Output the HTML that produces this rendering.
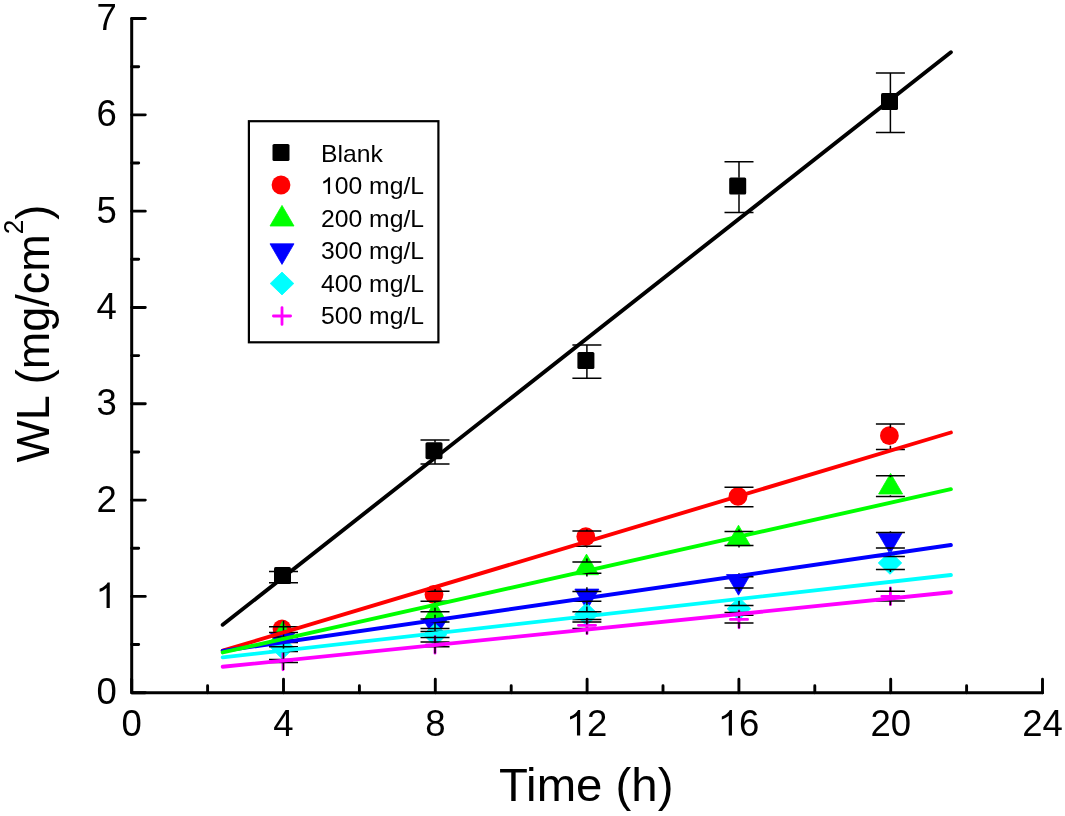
<!DOCTYPE html><html><head><meta charset="utf-8"><title>WL vs Time</title><style>html,body{margin:0;padding:0;background:#fff;overflow:hidden}svg{display:block;will-change:transform}text{font-family:"Liberation Sans",sans-serif;fill:#000}</style></head><body>
<svg width="1065" height="816" viewBox="0 0 1065 816">
<rect width="1065" height="816" fill="#fff"/>
<rect x="274.00" y="567.10" width="17.0" height="17.0" rx="1.6" fill="#000"/>
<rect x="425.50" y="442.20" width="17.0" height="17.0" rx="1.6" fill="#000"/>
<rect x="577.40" y="352.00" width="17.0" height="17.0" rx="1.6" fill="#000"/>
<rect x="729.20" y="177.50" width="17.0" height="17.0" rx="1.6" fill="#000"/>
<rect x="881.00" y="93.10" width="17.0" height="17.0" rx="1.6" fill="#000"/>
<circle cx="282.00" cy="629.00" r="9.4" fill="#f00"/>
<circle cx="434.00" cy="594.50" r="9.4" fill="#f00"/>
<circle cx="585.80" cy="536.60" r="9.4" fill="#f00"/>
<circle cx="738.00" cy="496.30" r="9.4" fill="#f00"/>
<circle cx="889.40" cy="435.70" r="9.4" fill="#f00"/>
<path d="M282.60,621.40 L294.60,642.00 L270.60,642.00Z" fill="#0f0" stroke="#0f0" stroke-width="0.8" stroke-linejoin="round"/>
<path d="M434.80,601.30 L446.80,621.90 L422.80,621.90Z" fill="#0f0" stroke="#0f0" stroke-width="0.8" stroke-linejoin="round"/>
<path d="M586.50,554.10 L598.50,574.70 L574.50,574.70Z" fill="#0f0" stroke="#0f0" stroke-width="0.8" stroke-linejoin="round"/>
<path d="M738.50,525.20 L750.50,545.80 L726.50,545.80Z" fill="#0f0" stroke="#0f0" stroke-width="0.8" stroke-linejoin="round"/>
<path d="M890.60,473.40 L902.60,494.00 L878.60,494.00Z" fill="#0f0" stroke="#0f0" stroke-width="0.8" stroke-linejoin="round"/>
<path d="M282.60,653.90 L294.60,633.30 L270.60,633.30Z" fill="#00f" stroke="#00f" stroke-width="0.8" stroke-linejoin="round"/>
<path d="M435.00,639.60 L447.00,619.00 L423.00,619.00Z" fill="#00f" stroke="#00f" stroke-width="0.8" stroke-linejoin="round"/>
<path d="M586.90,609.70 L598.90,589.10 L574.90,589.10Z" fill="#00f" stroke="#00f" stroke-width="0.8" stroke-linejoin="round"/>
<path d="M738.50,595.20 L750.50,574.60 L726.50,574.60Z" fill="#00f" stroke="#00f" stroke-width="0.8" stroke-linejoin="round"/>
<path d="M890.00,553.80 L902.00,533.20 L878.00,533.20Z" fill="#00f" stroke="#00f" stroke-width="0.8" stroke-linejoin="round"/>
<path d="M282.50,636.40 L294.30,647.80 L282.50,659.20 L270.70,647.80Z" fill="#0ff" stroke="#0ff" stroke-width="0.8" stroke-linejoin="round"/>
<path d="M435.00,623.40 L446.80,634.80 L435.00,646.20 L423.20,634.80Z" fill="#0ff" stroke="#0ff" stroke-width="0.8" stroke-linejoin="round"/>
<path d="M586.50,602.90 L598.30,614.30 L586.50,625.70 L574.70,614.30Z" fill="#0ff" stroke="#0ff" stroke-width="0.8" stroke-linejoin="round"/>
<path d="M738.90,597.40 L750.70,608.80 L738.90,620.20 L727.10,608.80Z" fill="#0ff" stroke="#0ff" stroke-width="0.8" stroke-linejoin="round"/>
<path d="M890.00,551.50 L901.80,562.90 L890.00,574.30 L878.20,562.90Z" fill="#0ff" stroke="#0ff" stroke-width="0.8" stroke-linejoin="round"/>
<path d="M274.40,661.40H291.60M283.00,653.00V669.80" stroke="#f0f" stroke-width="2.8" stroke-linecap="round" fill="none"/>
<path d="M426.40,644.80H443.60M435.00,636.40V653.20" stroke="#f0f" stroke-width="2.8" stroke-linecap="round" fill="none"/>
<path d="M578.40,625.30H595.60M587.00,616.90V633.70" stroke="#f0f" stroke-width="2.8" stroke-linecap="round" fill="none"/>
<path d="M730.40,619.40H747.60M739.00,611.00V627.80" stroke="#f0f" stroke-width="2.8" stroke-linecap="round" fill="none"/>
<path d="M881.80,596.30H899.00M890.40,587.90V604.70" stroke="#f0f" stroke-width="2.8" stroke-linecap="round" fill="none"/>
<path d="M269.00,571.40H298.00M269.00,582.70H298.00M283.50,571.40V567.30M283.50,582.70V583.90M420.50,439.90H449.50M420.50,464.00H449.50M435.00,439.90V442.40M435.00,464.00V459.00M572.40,345.10H601.40M572.40,378.20H601.40M586.90,345.10V352.20M586.90,378.20V368.80M724.50,161.80H753.50M724.50,212.40H753.50M739.00,161.80V177.70M739.00,212.40V194.30M875.90,73.00H904.90M875.90,132.40H904.90M890.40,73.00V93.30M890.40,132.40V109.90M269.00,626.80H298.00M269.00,632.50H298.00M283.50,626.80V620.65M283.50,632.50V638.65M420.50,591.30H449.50M420.50,601.30H449.50M435.00,591.30V587.30M435.00,601.30V605.30M572.40,530.90H601.40M572.40,546.30H601.40M586.90,530.90V529.60M586.90,546.30V547.60M724.50,487.30H753.50M724.50,506.70H753.50M739.00,487.30V488.00M739.00,506.70V506.00M875.90,424.10H904.90M875.90,449.40H904.90M890.40,424.10V427.75M890.40,449.40V445.75M269.00,632.50H298.00M269.00,637.00H298.00M283.50,632.50V625.75M283.50,637.00V643.75M420.50,611.70H449.50M420.50,621.90H449.50M435.00,611.70V607.80M435.00,621.90V625.80M572.40,561.90H601.40M572.40,573.30H601.40M586.90,561.90V558.60M586.90,573.30V576.60M724.50,531.40H753.50M724.50,545.50H753.50M739.00,531.40V529.45M739.00,545.50V547.45M875.90,475.80H904.90M875.90,496.60H904.90M890.40,475.80V477.20M890.40,496.60V495.20M269.00,641.00H298.00M269.00,642.40H298.00M283.50,641.00V632.70M283.50,642.40V650.70M420.50,619.10H449.50M420.50,628.40H449.50M435.00,619.10V614.75M435.00,628.40V632.75M572.40,591.40H601.40M572.40,601.30H601.40M586.90,591.40V587.35M586.90,601.30V605.35M724.50,576.80H753.50M724.50,587.90H753.50M739.00,576.80V573.35M739.00,587.90V591.35M875.90,532.50H904.90M875.90,547.90H904.90M890.40,532.50V531.20M890.40,547.90V549.20M269.00,646.80H298.00M269.00,651.50H298.00M283.50,646.80V640.15M283.50,651.50V658.15M420.50,631.50H449.50M420.50,637.60H449.50M435.00,631.50V625.55M435.00,637.60V643.55M572.40,611.80H601.40M572.40,619.40H601.40M586.90,611.80V606.60M586.90,619.40V624.60M724.50,605.40H753.50M724.50,612.40H753.50M739.00,605.40V599.90M739.00,612.40V617.90M875.90,556.50H904.90M875.90,569.60H904.90M890.40,556.50V554.05M890.40,569.60V572.05M269.00,659.50H298.00M269.00,662.50H298.00M283.50,659.50V652.00M283.50,662.50V670.00M420.50,642.00H449.50M420.50,646.80H449.50M435.00,642.00V635.40M435.00,646.80V653.40M572.40,621.90H601.40M572.40,628.60H601.40M586.90,621.90V616.25M586.90,628.60V634.25M724.50,615.30H753.50M724.50,623.00H753.50M739.00,615.30V610.15M739.00,623.00V628.15M875.90,591.30H904.90M875.90,601.10H904.90M890.40,591.30V587.20M890.40,601.10V605.20" stroke="#000" stroke-width="1.5" fill="none"/>
<line x1="222.7" y1="650.7" x2="950.9" y2="432.5" stroke="#f00" stroke-width="3.9" stroke-linecap="round"/>
<line x1="222.7" y1="624.8" x2="950.9" y2="52.2" stroke="#000" stroke-width="3.9" stroke-linecap="round"/>
<line x1="222.7" y1="651.0" x2="950.9" y2="545.0" stroke="#00f" stroke-width="3.9" stroke-linecap="round"/>
<line x1="222.7" y1="652.4" x2="950.9" y2="489.2" stroke="#0f0" stroke-width="3.9" stroke-linecap="round"/>
<line x1="222.7" y1="657.4" x2="950.9" y2="575.0" stroke="#0ff" stroke-width="3.9" stroke-linecap="round"/>
<line x1="222.7" y1="666.8" x2="950.9" y2="592.3" stroke="#f0f" stroke-width="3.9" stroke-linecap="round"/>
<path d="M131.70,692.70H145.30M131.70,596.39H145.30M131.70,500.08H145.30M131.70,403.77H145.30M131.70,307.46H145.30M131.70,211.15H145.30M131.70,114.84H145.30M131.70,18.53H145.30M131.70,644.55H138.70M131.70,548.24H138.70M131.70,451.93H138.70M131.70,355.62H138.70M131.70,259.31H138.70M131.70,163.00H138.70M131.70,66.69H138.70M131.70,692.70V679.30M283.50,692.70V679.30M435.30,692.70V679.30M587.10,692.70V679.30M738.90,692.70V679.30M890.70,692.70V679.30M1042.50,692.70V679.30M207.60,692.70V685.70M359.40,692.70V685.70M511.20,692.70V685.70M663.00,692.70V685.70M814.80,692.70V685.70M966.60,692.70V685.70" stroke="#000" stroke-width="2.9" fill="none" stroke-linecap="round"/>
<path d="M131.70,18.53V692.70H1042.50" stroke="#000" stroke-width="3" fill="none" stroke-linejoin="round" stroke-linecap="round"/>
<text x="96.40" y="704.20" font-size="36.5" xml:space="preserve">0</text>
<path transform="translate(96.40,607.89) scale(0.01782,-0.01732)" d="M750 0H570V1147Q505 1085 399 1023T180 925V1100Q359 1175 471 1276T630 1472H750V0Z"/>
<text x="96.40" y="511.58" font-size="36.5" xml:space="preserve">2</text>
<text x="96.40" y="415.27" font-size="36.5" xml:space="preserve">3</text>
<text x="96.40" y="318.96" font-size="36.5" xml:space="preserve">4</text>
<text x="96.40" y="222.65" font-size="36.5" xml:space="preserve">5</text>
<text x="96.40" y="126.34" font-size="36.5" xml:space="preserve">6</text>
<text x="96.40" y="30.03" font-size="36.5" xml:space="preserve">7</text>
<text x="121.55" y="735.50" font-size="36.5" xml:space="preserve">0</text>
<text x="273.35" y="735.50" font-size="36.5" xml:space="preserve">4</text>
<text x="425.15" y="735.50" font-size="36.5" xml:space="preserve">8</text>
<path transform="translate(566.80,735.50) scale(0.01782,-0.01732)" d="M750 0H570V1147Q505 1085 399 1023T180 925V1100Q359 1175 471 1276T630 1472H750V0Z"/><text x="587.10" y="735.50" font-size="36.5" xml:space="preserve">2</text>
<path transform="translate(718.60,735.50) scale(0.01782,-0.01732)" d="M750 0H570V1147Q505 1085 399 1023T180 925V1100Q359 1175 471 1276T630 1472H750V0Z"/><text x="738.90" y="735.50" font-size="36.5" xml:space="preserve">6</text>
<text x="870.40" y="735.50" font-size="36.5" xml:space="preserve">20</text>
<text x="1022.20" y="735.50" font-size="36.5" xml:space="preserve">24</text>
<text transform="translate(586.2,801.2) scale(1.012,1)" font-size="46.8" text-anchor="middle">Time (h)</text>
<text transform="translate(48.9,462.6) rotate(-90) scale(1,1.045)" font-size="45">WL (mg/cm<tspan font-size="26.2" dy="-24.6">2</tspan><tspan dy="24.6">)</tspan></text>
<rect x="248.9" y="121.2" width="189.5" height="221.1" fill="none" stroke="#000" stroke-width="2.2"/>
<rect x="272.50" y="144.00" width="17.0" height="17.0" rx="1.6" fill="#000"/>
<g transform="translate(321,161.60) scale(1.03,1)"><text x="0.00" y="0.00" font-size="24" xml:space="preserve">Blank</text></g>
<circle cx="281.00" cy="185.00" r="9.4" fill="#f00"/>
<g transform="translate(321,194.10) scale(1.03,1)"><path transform="translate(0.00,0.00) scale(0.01172,-0.01139)" d="M750 0H570V1147Q505 1085 399 1023T180 925V1100Q359 1175 471 1276T630 1472H750V0Z"/><text x="13.35" y="0.00" font-size="24" xml:space="preserve">00 mg/L</text></g>
<path d="M282.00,205.40 L294.00,226.00 L270.00,226.00Z" fill="#0f0" stroke="#0f0" stroke-width="0.8" stroke-linejoin="round"/>
<g transform="translate(321,226.60) scale(1.03,1)"><text x="0.00" y="0.00" font-size="24" xml:space="preserve">200 mg/L</text></g>
<path d="M282.00,264.40 L294.00,243.80 L270.00,243.80Z" fill="#00f" stroke="#00f" stroke-width="0.8" stroke-linejoin="round"/>
<g transform="translate(321,259.10) scale(1.03,1)"><text x="0.00" y="0.00" font-size="24" xml:space="preserve">300 mg/L</text></g>
<path d="M282.00,272.10 L293.80,283.50 L282.00,294.90 L270.20,283.50Z" fill="#0ff" stroke="#0ff" stroke-width="0.8" stroke-linejoin="round"/>
<g transform="translate(321,291.60) scale(1.03,1)"><text x="0.00" y="0.00" font-size="24" xml:space="preserve">400 mg/L</text></g>
<path d="M273.40,316.00H290.60M282.00,307.60V324.40" stroke="#f0f" stroke-width="2.8" stroke-linecap="round" fill="none"/>
<g transform="translate(321,324.10) scale(1.03,1)"><text x="0.00" y="0.00" font-size="24" xml:space="preserve">500 mg/L</text></g>
</svg></body></html>
